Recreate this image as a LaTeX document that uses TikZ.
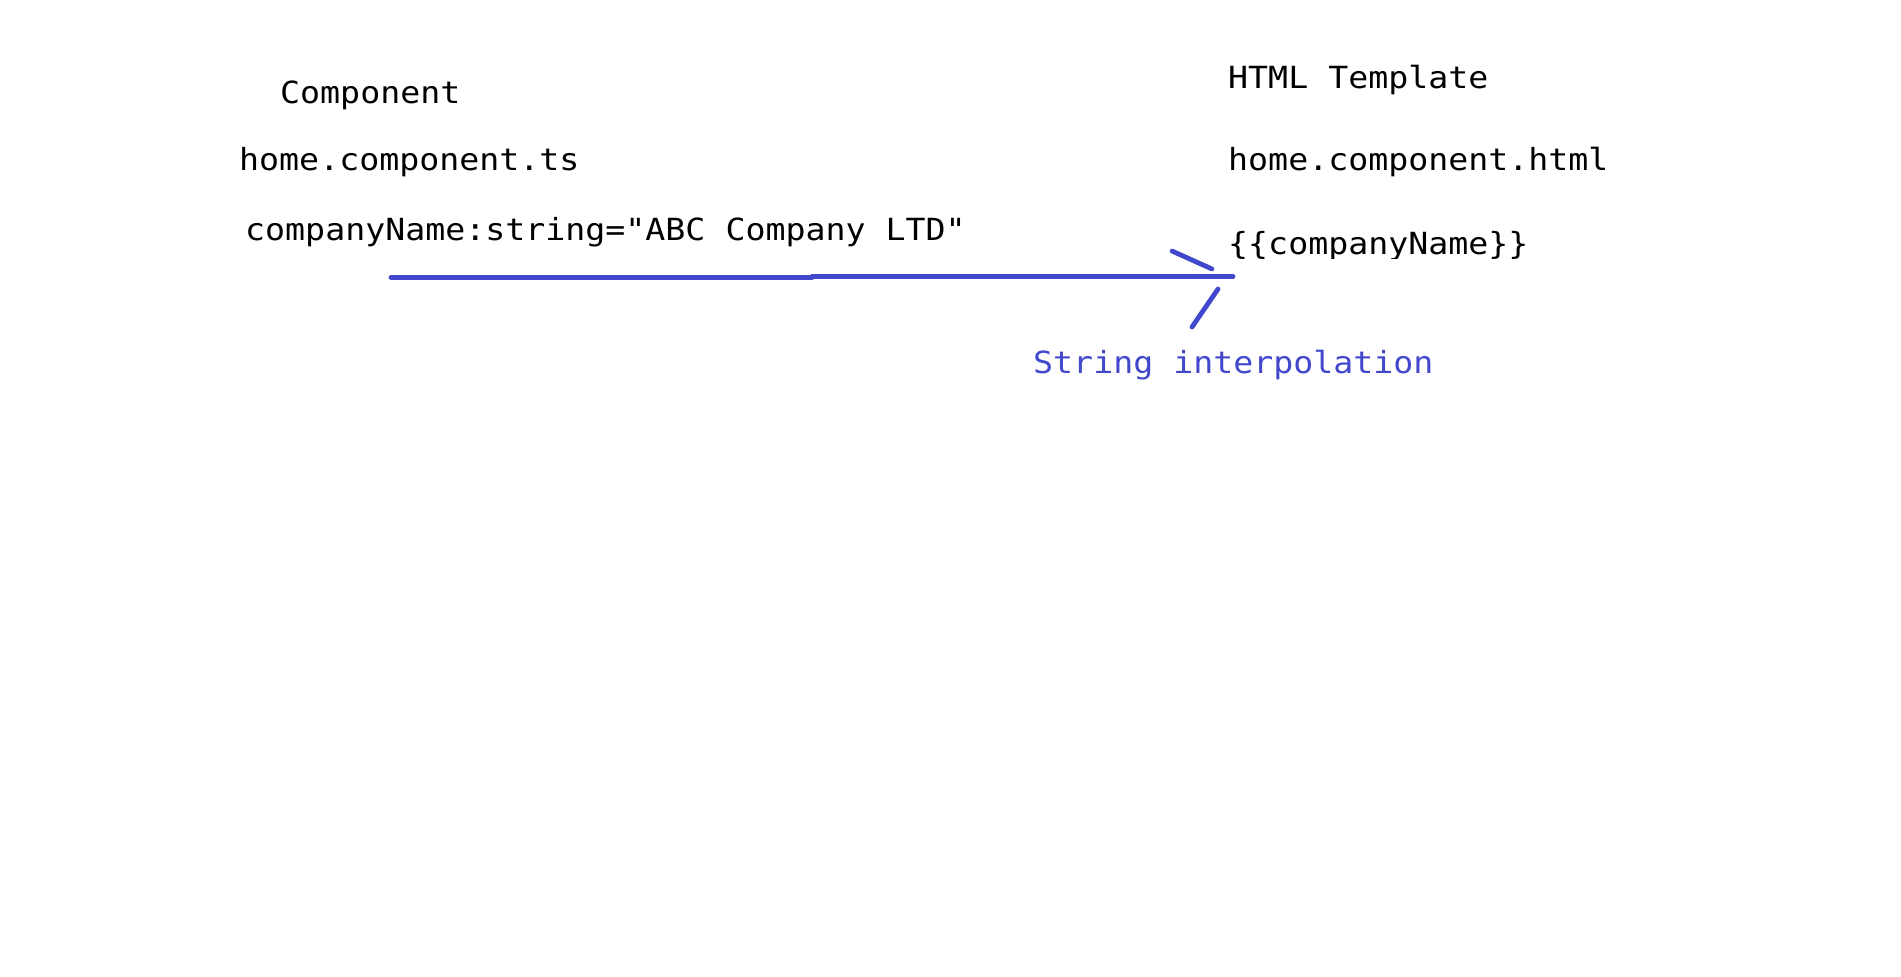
\documentclass[tikz,border=0pt]{standalone}
\usepackage{fontspec}
\newfontfamily\codefont[FakeStretch=1.09]{DejaVu Sans Mono}
\definecolor{inkblue}{RGB}{66,72,204}
\tikzset{
  codetext/.style={anchor=base west, inner sep=0pt, font=\codefont\fontsize{30.5}{36}\selectfont, text=black},
  bluetext/.style={codetext, text=inkblue},
  pen/.style={draw=inkblue, line width=4.8pt, line cap=round}
}
\begin{document}
\begin{tikzpicture}[x=1pt,y=-1pt]
\useasboundingbox[fill=white] (0,0) rectangle (1901,977);
% left column
\node[codetext] (comp) at (280,103) {Component};
\node[codetext] (ts) at (239,170) {home.component.ts};
\node[codetext] (cname) at (245,240) {companyName:string="ABC Company LTD"};
% right column
\node[codetext] (html) at (1228,88) {HTML Template};
\node[codetext] (htmlfile) at (1228,170) {home.component.html};
\begin{scope}
  \clip (1200,200) rectangle (1700,258);
  \node[codetext] (tmpl) at (1228,254) {\{\{companyName\}\}};
\end{scope}
\node[bluetext] (interp) at (1033,373) {String interpolation};
% connector
\coordinate (start) at (391,277.3);
\coordinate (step1) at (812,277.3);
\coordinate (step2) at (812,276.3);
\coordinate (tip) at (1233,276.3);
\draw[pen] (start) -- (step1);
\draw[pen] (step2) -- (tip);
% hand-drawn arrowhead strokes
\coordinate (u1) at (1172,251);
\coordinate (u2) at (1212,269);
\coordinate (l1) at (1218,289);
\coordinate (l2) at (1192,327);
\draw[pen] (u1) -- (u2);
\draw[pen] (l1) -- (l2);
\end{tikzpicture}
\end{document}
